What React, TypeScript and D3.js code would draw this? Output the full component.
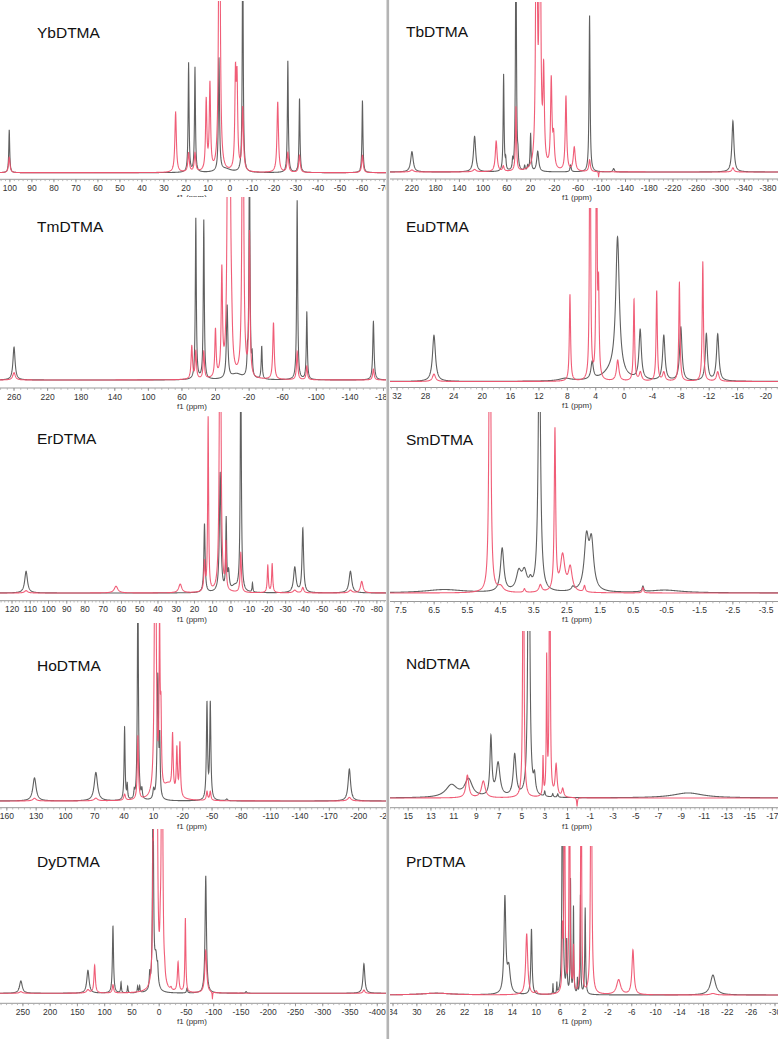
import React from 'react';
import * as d3 from 'd3';

// peak = [ppm, height (1 = panel height), half width in ppm]
type Peak = [number, number, number];

const panelNames = ['YbDTMA', 'TbDTMA', 'TmDTMA', 'EuDTMA', 'ErDTMA', 'SmDTMA', 'HoDTMA', 'NdDTMA', 'DyDTMA', 'PrDTMA'];

const ppmRanges: [number, number][] = [
  [104.5, -70.9], [257, -397], [276.7, -183], [33, -21.7], [126.6, -85],
  [7.83, -3.86], [167, -228], [16.6, -17.5], [292, -416], [34.5, -30.5],
];

const ybTicks = [100, 90, 80, 70, 60, 50, 40, 30, 20, 10, 0, -10, -20, -30, -40, -50, -60, -70];
const tbTicks = [220, 180, 140, 100, 60, 20, -20, -60, -100, -140, -180, -220, -260, -300, -340, -380];
const tmTicks = [260, 220, 180, 140, 100, 60, 20, -20, -60, -100, -140, -180];
const euTicks = [32, 28, 24, 20, 16, 12, 8, 4, 0, -4, -8, -12, -16, -20];
const erTicks = [120, 110, 100, 90, 80, 70, 60, 50, 40, 30, 20, 10, 0, -10, -20, -30, -40, -50, -60, -70, -80];
const smTicks = [7.5, 6.5, 5.5, 4.5, 3.5, 2.5, 1.5, 0.5, -0.5, -1.5, -2.5, -3.5];
const hoTicks = [160, 130, 100, 70, 40, 10, -20, -50, -80, -110, -140, -170, -200, -230];
const ndTicks = [15, 13, 11, 9, 7, 5, 3, 1, -1, -3, -5, -7, -9, -11, -13, -15, -17];
const dyTicks = [250, 200, 150, 100, 50, 0, -50, -100, -150, -200, -250, -300, -350, -400];
const prTicks = [34, 30, 26, 22, 18, 14, 10, 6, 2, -2, -6, -10, -14, -18, -22, -26, -30];

const ybGray: Peak[] = [[100.3, 0.25, 0.25], [18.8, 0.635, 0.25], [15.9, 0.61, 0.25], [5.0, 0.66, 0.3], [2, 0.02, 3], [-5.8, 1.4, 0.25], [-26.3, 0.65, 0.25], [-31.6, 0.43, 0.25], [-60.2, 0.42, 0.25]];
const ybRed: Peak[] = [[100.3, 0.09, 0.4], [24.7, 0.35, 0.4], [18.8, 0.11, 0.4], [15.9, 0.11, 0.4], [10.8, 0.41, 0.35], [9.1, 0.5, 0.35], [4.8, 2.5, 0.35], [-2.5, 0.53, 0.35], [-3.2, 0.5, 0.35], [-5.8, 0.37, 0.4], [-21.7, 0.41, 0.4], [-26.3, 0.115, 0.4], [-31.6, 0.1, 0.4], [-60.2, 0.1, 0.4]];

const tbGray: Peak[] = [[220, 0.12, 2.5], [114.4, 0.21, 2.2], [65.5, 0.57, 0.9], [62, 0.06, 0.8], [50.3, 0.05, 0.8], [44.7, 1.5, 0.9], [41.3, 0.06, 0.8], [30, 0.03, 1], [25, 0.03, 1], [20, 0.22, 1.0], [8, 0.12, 2], [-47.4, 0.04, 1.2], [-79.4, 0.92, 1.0], [-120, 0.02, 1.5], [-321, 0.3, 2.0]];
const tbRed: Peak[] = [[220, 0.012, 3], [114.4, 0.014, 3], [78, 0.18, 1.8], [66, 0.03, 1.5], [44.7, 0.38, 1.0], [10.1, 2.5, 1.2], [4.3, 2.5, 1.2], [-2, 0.54, 1.4], [-14.8, 0.52, 1.4], [-18.8, 0.18, 1.6], [-39.6, 0.44, 1.4], [-53.6, 0.14, 2.0], [-79.4, 0.07, 1.5], [-94.6, -0.03, 0.5], [-321, 0.025, 2]];

const tmGray: Peak[] = [[260, 0.18, 1.5], [43.5, 0.88, 0.7], [34, 0.87, 0.7], [6.2, 0.4, 1.0], [-5, 0.03, 8], [-18, 0.1, 0.6], [-20.4, 1.3, 0.7], [-23.6, 0.1, 0.6], [-35, 0.18, 0.7], [-77.2, 0.98, 0.7], [-88.7, 0.37, 0.7], [-168, 0.32, 0.9]];
const tmRed: Peak[] = [[260, 0.04, 1.8], [48.3, 0.18, 1], [43.5, 0.15, 0.9], [34, 0.15, 0.9], [20.1, 0.26, 0.9], [12.5, 0.57, 0.9], [5, 2.5, 1.0], [2.6, 0.9, 0.9], [1, 0.2, 1.2], [-12.5, 2.5, 0.9], [-20.4, 0.78, 0.8], [-49, 0.31, 1.0], [-77.2, 0.155, 0.9], [-88.7, 0.075, 0.9], [-168, 0.06, 1.0]];

const euGray: Peak[] = [[26.8, 0.266, 0.25], [8.3, 0.015, 1.0], [4.5, 0.1, 0.2], [1.5, 0.06, 1.5], [0.92, 0.78, 0.3], [-2.27, 0.285, 0.2], [-5.6, 0.26, 0.2], [-8.0, 0.31, 0.2], [-11.6, 0.27, 0.18], [-13.2, 0.27, 0.2]];
const euRed: Peak[] = [[26.8, 0.043, 0.25], [7.63, 0.5, 0.1], [4.8, 2.5, 0.07], [3.88, 2.0, 0.07], [3.6, 0.5, 0.1], [0.9, 0.12, 0.2], [-1.4, 0.47, 0.1], [-2.3, 0.05, 0.2], [-4.6, 0.52, 0.1], [-5.6, 0.05, 0.2], [-7.8, 0.57, 0.1], [-11.1, 0.69, 0.1], [-13.2, 0.055, 0.2]];

const erGray: Peak[] = [[112.3, 0.12, 0.9], [14.5, 0.38, 0.4], [5.9, 0.66, 0.5], [2.6, 0.39, 0.3], [1.3, 0.1, 0.5], [-2, 0.03, 2], [-5.4, 1.3, 0.35], [-11.8, 0.05, 0.25], [-35, 0.14, 0.8], [-39.4, 0.355, 0.5], [-65.5, 0.12, 0.9]];
const erRed: Peak[] = [[112.3, 0.013, 1], [63, 0.037, 1.2], [27.8, 0.048, 1.0], [14.5, 0.16, 0.4], [12.5, 0.96, 0.3], [5.9, 2.5, 0.4], [2.8, 0.25, 0.3], [-5.4, 0.22, 0.4], [-20.2, 0.15, 0.35], [-22.6, 0.16, 0.35], [-35, 0.015, 1], [-39.4, 0.03, 0.6], [-65.5, 0.015, 1], [-71.7, 0.064, 0.8]];

const smGray: Peak[] = [[6.2, 0.018, 0.7], [4.45, 0.24, 0.06], [3.95, 0.1, 0.09], [3.78, 0.1, 0.09], [3.6, 0.04, 0.05], [3.33, 1.5, 0.04], [2.32, 0.02, 0.05], [1.91, 0.28, 0.08], [1.76, 0.26, 0.08], [0.21, 0.03, 0.03], [-0.45, 0.015, 0.6]];
const smRed: Peak[] = [[4.82, 2.5, 0.025], [4.5, 0.03, 0.1], [3.78, 0.02, 0.03], [3.3, 0.04, 0.05], [2.86, 0.89, 0.025], [2.63, 0.2, 0.08], [2.4, 0.13, 0.07], [1.97, 0.035, 0.03], [0.21, 0.03, 0.025]];

const hoGray: Peak[] = [[131.7, 0.13, 2.0], [68.9, 0.16, 2.0], [39.5, 0.41, 0.6], [36.8, 0.08, 0.5], [29.6, 0.04, 0.5], [25.9, 1.3, 0.6], [21.8, 0.05, 0.6], [9.8, 0.05, 0.8], [5.5, 0.7, 0.8], [3.5, 0.3, 0.5], [-44.8, 0.54, 0.7], [-48.2, 0.54, 0.7], [-65, 0.01, 1], [-190.5, 0.18, 1.5]];
const hoRed: Peak[] = [[131.7, 0.015, 2], [68.9, 0.015, 2], [39.5, 0.035, 1], [25.9, 0.36, 0.7], [8.1, 2.5, 0.8], [3.7, 0.9, 0.6], [2.3, 0.39, 0.6], [-5, 0.08, 6], [-9.6, 0.32, 0.7], [-14, 0.26, 0.7], [-17.1, 0.3, 0.7], [-44.8, 0.05, 0.8], [-48.2, 0.05, 0.8], [-190.5, 0.02, 2]];

const ndGray: Peak[] = [[11.2, 0.074, 0.6], [9.7, 0.105, 0.4], [7.73, 0.35, 0.1], [7.1, 0.2, 0.2], [5.64, 0.25, 0.15], [4.4, 2.5, 0.08], [3.9, 0.1, 0.1], [3.0, 0.03, 0.05], [2.3, 0.02, 0.05], [1.86, 0.02, 0.05], [-9.6, 0.03, 1.6]];
const ndRed: Peak[] = [[9.8, 0.135, 0.15], [8.4, 0.1, 0.2], [4.88, 2.5, 0.05], [3.15, 0.23, 0.04], [2.83, 0.81, 0.04], [2.56, 2.5, 0.04], [2.0, 0.19, 0.1], [1.42, 0.05, 0.1], [0.16, -0.05, 0.04]];

const dyGray: Peak[] = [[253.7, 0.075, 3], [130.7, 0.14, 2.5], [84.8, 0.41, 1.2], [70, 0.065, 0.8], [57.8, 0.04, 0.8], [39.5, 0.04, 0.8], [35.8, 0.04, 0.8], [17.4, 0.09, 1], [11.3, 1.3, 1.1], [6, 0.2, 3], [2.8, 0.08, 1], [-51, 0.03, 1], [-85.4, 0.715, 1.5], [-159.4, 0.01, 1.5], [-375.5, 0.18, 2]];
const dyRed: Peak[] = [[253.7, 0.01, 3], [130.7, 0.02, 3], [118.4, 0.17, 1.5], [84.8, 0.05, 1.5], [11.5, 0.5, 0.8], [8.5, 2.5, 1.2], [4.5, 2.5, 1.2], [-2, 0.15, 1], [-5.2, 2.5, 1.2], [-10, 0.04, 1], [-21.7, 0.015, 1.5], [-34.6, 0.18, 1.5], [-48, 0.45, 1.0], [-85.4, 0.26, 2], [-97.6, -0.04, 0.5], [-375.5, 0.02, 2]];

const prGray: Peak[] = [[26.75, 0.012, 3], [15.25, 0.64, 0.18], [14.6, 0.17, 0.3], [10.8, 0.44, 0.12], [7.2, 0.07, 0.04], [6.55, 0.07, 0.04], [5.6, 2.5, 0.08], [4.9, 0.34, 0.08], [4.26, 0.76, 0.06], [3.76, 0.58, 0.06], [3.1, 0.1, 0.05], [2.6, 0.66, 0.06], [1.8, 0.58, 0.08], [-19.6, 0.134, 0.5]];
const prRed: Peak[] = [[26.75, 0.012, 3], [11.6, 0.41, 0.2], [10, 0.02, 0.2], [5.6, 0.38, 0.08], [5.27, 2.5, 0.07], [4.43, 2.5, 0.07], [3.76, 0.3, 0.08], [2.48, 2.5, 0.07], [0.8, 2.5, 0.1], [-3.8, 0.1, 0.4], [-6.2, 0.3, 0.2], [-19.6, 0.01, 0.5]];

const tickSets = [ybTicks, tbTicks, tmTicks, euTicks, erTicks, smTicks, hoTicks, ndTicks, dyTicks, prTicks];
const graySpectra = [ybGray, tbGray, tmGray, euGray, erGray, smGray, hoGray, ndGray, dyGray, prGray];
const redSpectra = [ybRed, tbRed, tmRed, euRed, erRed, smRed, hoRed, ndRed, dyRed, prRed];

// layout of the 2 x 5 grid (pixels)
const W = 778;
const H = 1039;
const cols = [{ x0: 0, x1: 386, tx: 37, fx: 192 }, { x0: 390, x1: 778, tx: 406, fx: 577 }];
const rows = [
  { top: [1, 2], base: [172.7, 172], axis: [179.3, 179], title: [38, 37] },
  { top: [197, 208], base: [380, 381.5], axis: [388, 387.5], title: [232, 232] },
  { top: [412, 412], base: [593, 593], axis: [600.7, 601.5], title: [444, 445] },
  { top: [623, 631], base: [801, 798], axis: [807.7, 807.7], title: [671, 669] },
  { top: [829, 846], base: [993.3, 995], axis: [1003.3, 1003.3], title: [867, 867] },
];

const GRAY = '#606060';
const RED = '#ef5470';
const FONT = "'Liberation Sans', Arial, sans-serif";

const fmt = (v: number) => (v < 0 ? '-' + Math.abs(v) : String(v));

function spectrum(peaks: Peak[], x: d3.ScaleLinear<number, number>, y: d3.ScaleLinear<number, number>, x0: number, x1: number) {
  const ppms = d3.range(x0, x1 + 0.01, 0.2).map(px => x.invert(px));
  peaks.forEach(p => ppms.push(p[0]));
  ppms.sort((a, b) => b - a);
  const pts: [number, number][] = ppms.map(ppm => [
    ppm,
    peaks.reduce((s, [c, h, w]) => s + (h * w * w) / ((ppm - c) * (ppm - c) + w * w), 0),
  ]);
  return d3.line<[number, number]>()
    .x(d => x(d[0]))
    .y(d => y(Math.max(-0.3, Math.min(d[1], 3))))(pts) || '';
}

const Panel: React.FC<{ i: number }> = ({ i }) => {
  const c = i % 2;
  const r = Math.floor(i / 2);
  const { x0, x1, tx, fx } = cols[c];
  const top = rows[r].top[c];
  const base = rows[r].base[c];
  const axisY = rows[r].axis[c];
  const x = d3.scaleLinear().domain(ppmRanges[i]).range([x0, x1]);
  const y = d3.scaleLinear().domain([0, 1]).range([base, top]);
  const ticks = tickSets[i];
  const step = Math.abs(ticks[1] - ticks[0]);
  const minor = d3.range(ticks[0] + step, ppmRanges[i][1] - step, -step / 5)
    .filter(v => x(v) >= x0 && x(v) <= x1);
  const clipId = `clip-${i}`;
  const labelClip = `lclip-${i}`;
  return (
    <g>
      <defs>
        <clipPath id={clipId}>
          <rect x={x0} y={top} width={x1 - x0} height={axisY - top - 1} />
        </clipPath>
        <clipPath id={labelClip}>
          <rect x={x0} y={top - 10} width={x1 - x0} height={axisY - top + 40} />
        </clipPath>
      </defs>
      {/* only the Tm panel hides the bottom of the Yb axis title */}
      {i === 2 && <rect x={x0} y={top} width={x1 - x0} height={axisY + 24 - top} fill="#fff" />}
      <g clipPath={`url(#${clipId})`}>
        <path d={spectrum(graySpectra[i], x, y, x0, x1)} fill="none" stroke={GRAY} strokeWidth={1.1} />
        <path d={spectrum(redSpectra[i], x, y, x0, x1)} fill="none" stroke={RED} strokeWidth={1.1} opacity={0.95} />
      </g>
      <g clipPath={`url(#${labelClip})`}>
        <line x1={x0} x2={x1} y1={axisY} y2={axisY} stroke="#999" strokeWidth={1} />
        {minor.map(v => (
          <line key={'m' + v} x1={x(v)} x2={x(v)} y1={axisY} y2={axisY + 1.8} stroke="#aaa" strokeWidth={0.8} />
        ))}
        {ticks.map(v => (
          <g key={v}>
            <line x1={x(v)} x2={x(v)} y1={axisY} y2={axisY + 3} stroke="#888" strokeWidth={0.8} />
            <text x={x(v)} y={axisY + 11.5} textAnchor="middle" fontSize={8.5} fontFamily={FONT} fill="#333">
              {fmt(v)}
            </text>
          </g>
        ))}
        <text x={fx} y={axisY + 20.8} textAnchor="middle" fontSize={8} fontFamily={FONT} fill="#333">
          f1 (ppm)
        </text>
      </g>
      <text x={tx} y={rows[r].title[c]} fontSize={15.5} fontFamily={FONT} fill="#111">
        {panelNames[i]}
      </text>
    </g>
  );
};

export default function App() {
  return (
    <svg width={W} height={H} viewBox={`0 0 ${W} ${H}`} style={{ position: 'absolute', left: 0, top: 0, background: '#fff' }}>
      <rect width={W} height={H} fill="#fff" />
      {panelNames.map((_, i) => <Panel key={i} i={i} />)}
      <rect x={386.5} y={0} width={2.6} height={H} fill="#b4b4b4" />
    </svg>
  );
}
